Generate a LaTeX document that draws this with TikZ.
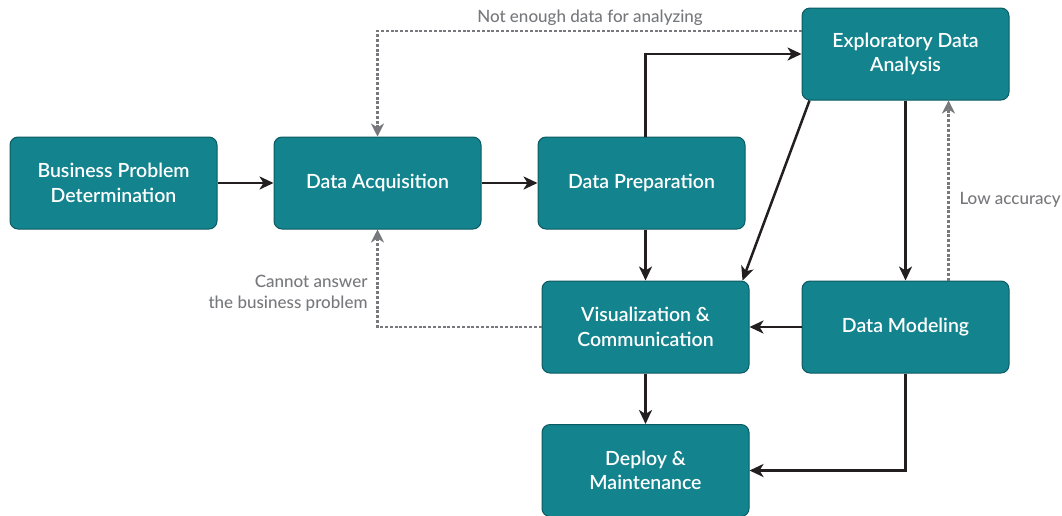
\documentclass[tikz,border=0pt]{standalone}
\usepackage{fontspec}
\setmainfont{Lato Medium}
\newfontfamily\boxfont{Lato Semibold}
\usetikzlibrary{arrows.meta}
\definecolor{boxfill}{HTML}{13838E}
\definecolor{boxline}{HTML}{0C5A61}
\definecolor{arrowblack}{HTML}{231F20}
\definecolor{labelgray}{HTML}{77787B}
\tikzset{
  procbox/.style={draw=boxline, line width=1pt, fill=boxfill, rounded corners=8pt,
    minimum width=207pt, minimum height=92pt, text=white, align=center,
    font=\boxfont\fontsize{19.5}{24.5}\selectfont},
  flow/.style={draw=arrowblack, line width=2.5pt, -{Stealth[length=14pt,width=13pt,inset=4pt]}},
  back/.style={draw=labelgray, line width=2.8pt, dash pattern=on 3pt off 1.8pt,
    -{Stealth[length=13pt,width=13pt,inset=4pt]}},
  lbl/.style={text=labelgray, font=\fontsize{17}{21}\selectfont}
}
\begin{document}
\begin{tikzpicture}[x=1pt,y=-1pt]
\useasboundingbox (0,0) rectangle (1062,515);
\node[procbox] (bpd) at (113.5,183) {Business Problem\\Determination};
\node[procbox] (da) at (377.5,183) {Data Acquisition};
\node[procbox] (dp) at (641.5,183) {Data Preparation};
\node[procbox] (eda) at (905.5,54) {Exploratory Data\\Analysis};
\node[procbox] (vis) at (645.5,327) {Visualization \&\\Communication};
\node[procbox] (dm) at (905.5,327) {Data Modeling};
\node[procbox] (dep) at (645.5,470.5) {Deploy \&\\Maintenance};

\draw[flow] (bpd.east) -- (da.west);
\draw[flow] (da.east) -- (dp.west);
\draw[flow] ([xshift=4pt]dp.north) |- (eda.west);
\draw[flow] ([xshift=4pt]dp.south) -- (vis.north);
\draw[flow] ([xshift=8pt]eda.south west) -- ([xshift=-7pt]vis.north east);
\draw[flow] (eda.south) -- (dm.north);
\draw[flow] (dm.west) -- (vis.east);
\draw[flow] (vis.south) -- (dep.north);
\draw[flow] (dm.south) |- (dep.east);

\draw[back] ([yshift=23pt]eda.west) -| (da.north);
\draw[back] (vis.west) -| (da.south);
\draw[back] ([xshift=43pt]dm.north) -- ([xshift=43pt]eda.south);

\node[lbl] (l1) at (590,18) {Not enough data for analyzing};
\node[lbl, anchor=east, align=right] (l2) at (371,293) {Cannot answer\\the business problem};
\node[lbl, anchor=west] (l3) at (956,200) {Low accuracy};
\end{tikzpicture}
\end{document}
